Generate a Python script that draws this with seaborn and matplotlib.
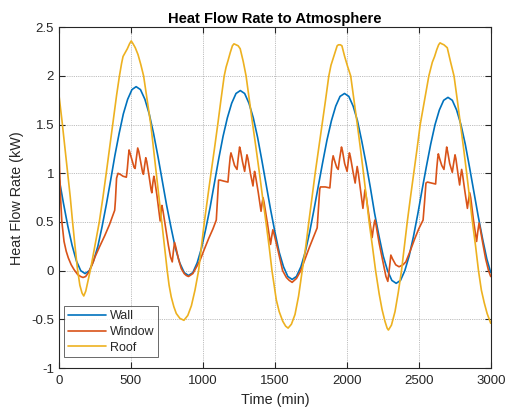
import numpy as np
import pandas as pd
import matplotlib
matplotlib.use("Agg")
import matplotlib.pyplot as plt
import seaborn as sns

# values (time in min, heat flow in kW)
wall_t = [0, 30, 61, 91, 121, 151, 181,
          211, 240, 270, 299, 329, 359, 388, 418, 447, 477, 507, 536,
          566, 597, 627, 657, 688, 718, 748, 779, 809, 839, 870, 900,
          930, 960, 990, 1020, 1050, 1080, 1110, 1140, 1170, 1200, 1230, 1260,
          1290, 1320, 1350, 1380, 1410, 1440, 1470, 1500, 1530, 1560, 1590, 1620,
          1650, 1681, 1711, 1741, 1771, 1802, 1832, 1862, 1893, 1923, 1953, 1984,
          2014, 2044, 2074, 2104, 2134, 2164, 2193, 2223, 2253, 2283, 2313, 2343,
          2373, 2403, 2433, 2463, 2493, 2523, 2553, 2583, 2613, 2643, 2673, 2703,
          2733, 2763, 2793, 2823, 2853, 2883, 2913, 2943, 2973, 3000]
wall_v = [0.95, 0.70, 0.46, 0.26, 0.10, 0.00, -0.03,
          0.00, 0.10, 0.25, 0.45, 0.68, 0.93, 1.18, 1.41, 1.61, 1.76, 1.86, 1.89,
          1.86, 1.76, 1.61, 1.41, 1.17, 0.92, 0.67, 0.44, 0.23, 0.08, -0.02, -0.05,
          -0.02, 0.08, 0.23, 0.43, 0.65, 0.90, 1.15, 1.38, 1.57, 1.72, 1.82, 1.85,
          1.82, 1.72, 1.57, 1.37, 1.13, 0.88, 0.63, 0.40, 0.19, 0.04, -0.06, -0.09,
          -0.06, 0.04, 0.19, 0.39, 0.62, 0.87, 1.11, 1.34, 1.54, 1.69, 1.79, 1.82,
          1.79, 1.69, 1.54, 1.33, 1.10, 0.85, 0.59, 0.36, 0.15, 0.00, -0.10, -0.13,
          -0.10, 0.00, 0.15, 0.35, 0.58, 0.83, 1.07, 1.30, 1.50, 1.65, 1.75, 1.78,
          1.75, 1.65, 1.50, 1.30, 1.06, 0.81, 0.56, 0.33, 0.12, -0.02]

window_t = [0, 5, 12, 20, 35, 50, 65, 85, 105, 130, 150, 167, 185, 205, 230, 250, 280, 318, 350, 387,
            392, 400, 410, 425, 445, 468, 475, 482, 487, 495, 510, 522, 529, 537, 547, 555, 570, 582, 587,
            595, 603, 610, 625, 640, 645, 652, 659, 665, 680, 695, 703, 709, 715, 722, 740, 760, 775, 787,
            795, 803, 812, 830, 850, 870, 885, 900,
            930, 960, 981, 1010, 1040, 1070, 1093, 1100, 1109, 1120, 1145, 1174, 1182, 1190, 1195, 1205,
            1220, 1237, 1245, 1255, 1262, 1275, 1290, 1298, 1306, 1313, 1330, 1348, 1354, 1359, 1366, 1385,
            1404, 1411, 1418, 1425, 1450, 1470, 1478, 1486, 1494, 1520, 1554, 1580, 1600, 1620,
            1650, 1680, 1710, 1740, 1770, 1794, 1802, 1812, 1817, 1850, 1882, 1890, 1898, 1905, 1915, 1930,
            1940, 1950, 1963, 1970, 1985, 2002, 2010, 2018, 2025, 2045, 2058, 2065, 2072, 2080, 2095, 2112,
            2119, 2126, 2134, 2155, 2176, 2185, 2195, 2203, 2225, 2250, 2272, 2285, 2298, 2306, 2318, 2340,
            2363, 2390, 2410, 2440, 2470, 2500, 2530, 2540, 2550, 2560, 2590, 2617, 2625, 2632, 2636, 2645,
            2660, 2675, 2685, 2694, 2701, 2715, 2733, 2742, 2752, 2758, 2772, 2784, 2790, 2798, 2805, 2820,
            2838, 2845, 2854, 2861, 2880, 2902, 2910, 2919, 2926, 2945, 2965, 2985, 3000]
window_v = [1.25, 1.00, 0.72, 0.50, 0.30, 0.20, 0.13, 0.06, 0.01, -0.04, -0.06, -0.07, -0.06, -0.02, 0.06, 0.14, 0.24, 0.36, 0.47, 0.62,
            0.72, 0.95, 1.00, 0.99, 0.97, 0.96, 1.05, 1.17, 1.24, 1.20, 1.12, 1.06, 1.05, 1.15, 1.26, 1.22, 1.10, 1.00, 0.99,
            1.08, 1.16, 1.12, 0.98, 0.83, 0.80, 0.90, 0.97, 0.93, 0.78, 0.60, 0.51, 0.60, 0.67, 0.62, 0.45, 0.26, 0.14, 0.09,
            0.20, 0.29, 0.24, 0.12, 0.02, -0.03, -0.05, -0.06,
            -0.03, 0.05, 0.11, 0.22, 0.33, 0.43, 0.52, 0.70, 0.93, 0.93, 0.92, 0.91, 1.05, 1.17, 1.21, 1.16,
            1.08, 1.04, 1.15, 1.27, 1.23, 1.12, 1.02, 1.11, 1.19, 1.15, 1.00, 0.87, 0.96, 1.02, 0.97, 0.80,
            0.61, 0.69, 0.75, 0.70, 0.47, 0.27, 0.35, 0.42, 0.38, 0.22, 0.00, -0.07, -0.10, -0.12,
            -0.08, 0.00, 0.12, 0.24, 0.35, 0.44, 0.62, 0.84, 0.86, 0.86, 0.85, 0.98, 1.12, 1.18, 1.13, 1.06,
            1.04, 1.15, 1.27, 1.23, 1.10, 1.02, 1.12, 1.21, 1.17, 1.00, 0.90, 0.99, 1.07, 1.00, 0.83, 0.64,
            0.74, 0.83, 0.77, 0.55, 0.34, 0.44, 0.52, 0.47, 0.28, 0.10, -0.06, -0.11, 0.05, 0.16, 0.12, 0.06,
            0.04, 0.06, 0.09, 0.20, 0.32, 0.43, 0.52, 0.70, 0.90, 0.91, 0.90, 0.89, 1.05, 1.16, 1.20, 1.15,
            1.08, 1.04, 1.16, 1.27, 1.22, 1.10, 1.01, 1.10, 1.19, 1.15, 1.00, 0.88, 0.96, 1.04, 0.98, 0.82,
            0.64, 0.72, 0.80, 0.75, 0.52, 0.30, 0.40, 0.49, 0.44, 0.28, 0.12, 0.00, -0.06]

roof_t = [0, 20, 40, 60, 78, 93, 110, 128, 145, 160, 172, 186, 202, 220, 250, 280, 305, 330, 355, 378,
          400, 420, 435, 445, 460, 475, 490, 502, 515, 530, 549, 568, 588, 612, 638, 657, 676, 695, 714,
          733, 752, 765, 780, 798, 815, 840, 868,
          895, 920, 945, 970, 990, 1010, 1033, 1056, 1080, 1103, 1125, 1148, 1161, 1175, 1190, 1205, 1216,
          1230, 1245, 1259, 1280, 1300, 1323, 1346, 1370, 1393, 1415, 1438, 1460, 1480, 1495, 1510, 1530,
          1555, 1575, 1592,
          1615, 1640, 1665, 1690, 1715, 1736, 1758, 1780, 1804, 1828, 1852, 1875, 1890, 1905, 1920, 1933,
          1942, 1955, 1966, 1985, 2005, 2027, 2050, 2073, 2095, 2116, 2136, 2155, 2178, 2200, 2225, 2245,
          2265, 2280, 2289,
          2310, 2335, 2358, 2380, 2400, 2420, 2442, 2465, 2488, 2510, 2540, 2570, 2594, 2610, 2625, 2638,
          2648, 2660, 2675, 2698, 2720, 2745, 2768, 2790, 2812, 2833, 2853, 2873, 2895, 2915, 2935, 2955,
          2975, 3000]
roof_v = [1.80, 1.55, 1.28, 1.02, 0.76, 0.52, 0.27, 0.02, -0.15, -0.23, -0.26, -0.21, -0.10, 0.02, 0.26, 0.50, 0.75, 1.02, 1.30, 1.55,
          1.80, 2.00, 2.13, 2.20, 2.24, 2.28, 2.33, 2.36, 2.33, 2.29, 2.22, 2.12, 2.00, 1.76, 1.50, 1.25, 1.00, 0.75, 0.50,
          0.25, 0.00, -0.15, -0.27, -0.37, -0.44, -0.49, -0.51,
          -0.46, -0.36, -0.20, 0.00, 0.25, 0.50, 0.75, 1.00, 1.25, 1.50, 1.75, 2.00, 2.09, 2.16, 2.24, 2.31, 2.33,
          2.32, 2.31, 2.28, 2.15, 2.00, 1.75, 1.50, 1.25, 1.00, 0.75, 0.50, 0.25, 0.00, -0.15, -0.30, -0.42,
          -0.52, -0.57, -0.59,
          -0.55, -0.45, -0.26, 0.00, 0.25, 0.50, 0.75, 1.00, 1.25, 1.50, 1.75, 2.00, 2.11, 2.18, 2.25, 2.31,
          2.32, 2.32, 2.31, 2.20, 2.10, 2.00, 1.75, 1.50, 1.25, 1.00, 0.75, 0.50, 0.25, 0.00, -0.24, -0.40,
          -0.52, -0.59, -0.61,
          -0.56, -0.42, -0.22, 0.00, 0.25, 0.50, 0.75, 1.00, 1.25, 1.50, 1.75, 2.00, 2.14, 2.20, 2.27, 2.32,
          2.34, 2.33, 2.32, 2.29, 2.15, 2.00, 1.75, 1.50, 1.25, 1.00, 0.75, 0.50, 0.25, 0.00, -0.20, -0.33,
          -0.44, -0.54]

series_names = ["Wall", "Window", "Roof"]
colors = ["#0072BD", "#D95319", "#EDB120"]

df = pd.concat([
    pd.DataFrame({"t": wall_t, "q": wall_v, "series": "Wall"}),
    pd.DataFrame({"t": window_t, "q": window_v, "series": "Window"}),
    pd.DataFrame({"t": roof_t, "q": roof_v, "series": "Roof"}),
], ignore_index=True)

sns.set_style("white")
plt.rcParams["font.family"] = ["Liberation Sans", "DejaVu Sans"]
plt.rcParams["axes.unicode_minus"] = False

fig = plt.figure(figsize=(5.06, 4.09), dpi=100)
ax = fig.add_axes([0.1166, 0.1002, 0.8532, 0.8331])

sns.lineplot(data=df, x="t", y="q", hue="series", hue_order=series_names,
             palette=colors, estimator=None, sort=False, linewidth=1.2, ax=ax)

ax.set_xlim(0, 3000)
ax.set_ylim(-1, 2.5)
ax.set_xticks(np.arange(0, 3001, 500))
ax.set_yticks(np.arange(-1, 2.51, 0.5))
ax.yaxis.set_major_formatter(matplotlib.ticker.FuncFormatter(lambda v, p: "%g" % v))

ax.grid(True, color="#a8a8a8", linestyle=(0, (1, 1.2)), linewidth=0.6)
ax.set_axisbelow(True)
for s in ax.spines.values():
    s.set_color("#262626")
    s.set_linewidth(0.8)
ax.tick_params(direction="in", length=4, width=0.8, color="#262626",
               labelsize=9.5, labelcolor="#262626",
               top=True, right=True, bottom=True, left=True)
ax.tick_params(axis="x", pad=5)

ax.set_xlabel("Time (min)", fontsize=10.4, color="#262626", labelpad=4)
ax.set_ylabel("Heat Flow Rate (kW)", fontsize=10.4, color="#262626", labelpad=5)
ax.set_title("Heat Flow Rate to Atmosphere", fontsize=10.6, fontweight="bold",
             color="black", pad=3)

handles, labels = ax.get_legend_handles_labels()
leg = ax.legend(handles, labels, loc="lower left", bbox_to_anchor=(0.004, 0.02),
                fontsize=9, frameon=True, fancybox=False, handlelength=3.0,
                handletextpad=0.35, borderpad=0.3, labelspacing=0.3,
                borderaxespad=0.3)
leg.get_frame().set_edgecolor("#262626")
leg.get_frame().set_linewidth(0.6)
for line in leg.get_lines():
    line.set_linewidth(1.2)

fig.savefig("out.png", dpi=100)
